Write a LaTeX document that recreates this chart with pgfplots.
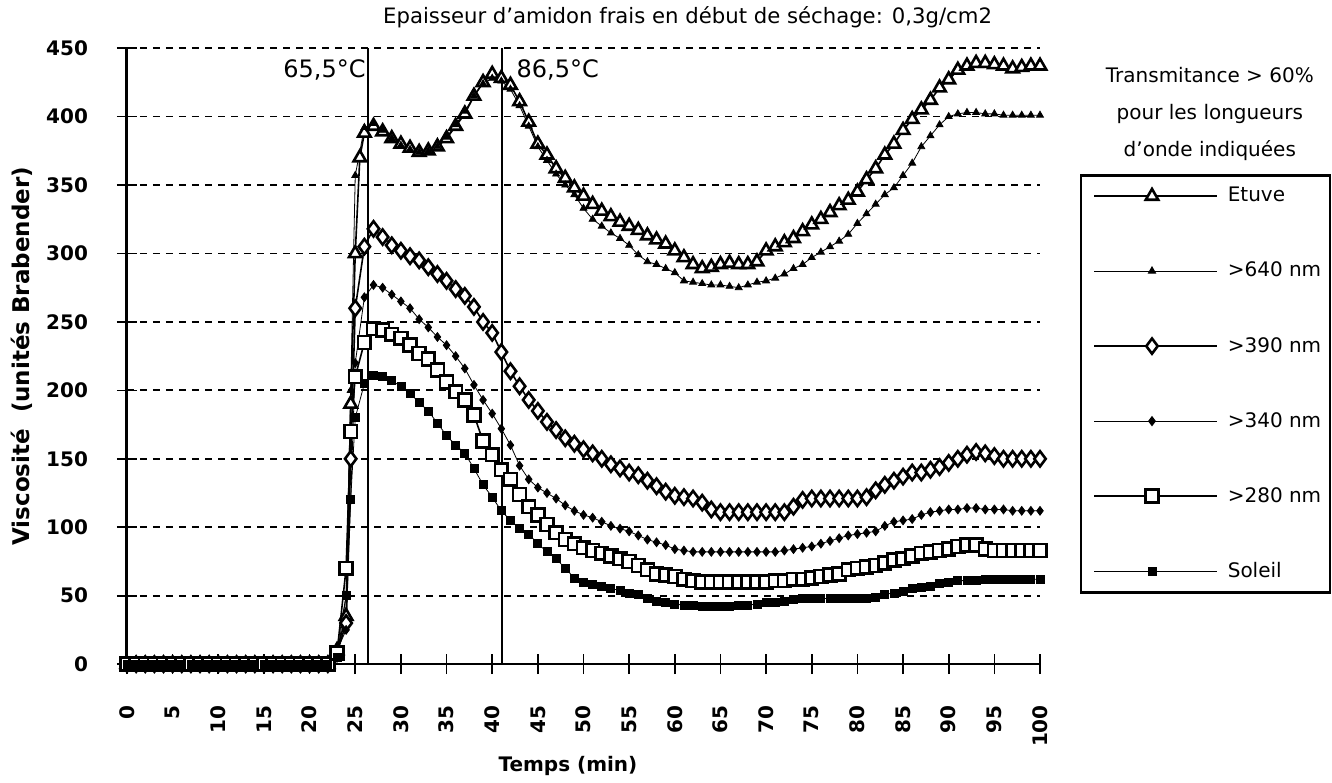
\documentclass[border=0pt]{standalone}
\usepackage{fontspec}
\setmainfont{DejaVu Sans}
\usepackage{pgfplots}
\pgfplotsset{compat=1.18}

\pgfplotsset{
  legline/.style={
    legend image code/.code={
      \path (-4pt,0pt) -- (57.5pt,0pt);
      \draw[line width=0.5pt, mark repeat=2, mark phase=2] plot coordinates {(0pt,0pt) (25pt,0pt) (53.5pt,0pt)};
    }
  }
}

\begin{document}
\begin{tikzpicture}
\begin{axis}[
  at={(0,0)}, anchor=south west,
  scale only axis, width=456.5pt, height=308pt,
  xmin=0, xmax=100, ymin=0, ymax=450,
  clip=false,
  axis x line=bottom, axis y line=left,
  x axis line style={-, line width=1pt},
  y axis line style={-, line width=1.5pt},
  xtick={0,5,...,100}, ytick={0,50,...,450},
  tick align=center, major tick length=10pt,
  tick style={line width=0.8pt, black},
  /pgf/number format/assume math mode=true,
  ticklabel style={font=\bfseries\fontsize{10}{12}\selectfont},
  xticklabel style={yshift=-12pt, rotate=90, anchor=east},
  yticklabel style={xshift=-11pt},
  ymajorgrids,
  grid style={line width=0.9pt, dash pattern=on 3.5pt off 3pt, black},
  xlabel={Temps (min)},
  xlabel style={font=\bfseries\fontsize{10}{12}\selectfont, at={(axis description cs:0.483,-0.165)}, anchor=center},
  ylabel={Viscosité~~(unités Brabender)},
  ylabel style={font=\bfseries\fontsize{11.5}{13}\selectfont, at={(axis description cs:-0.115,0.5)}, anchor=center, rotate=0},
  legend cell align=left,
  legend style={
    at={(axis description cs:1.04381,0.79545)}, anchor=north west,
    draw=black, line width=1.2pt,
    inner xsep=6pt, inner ysep=5pt,
    row sep=26.6pt, column sep=4pt,
    font=\fontsize{10}{12}\selectfont,
    nodes={inner sep=1pt}
  },
]

% heating markers
\addplot[forget plot, line width=0.8pt] coordinates {(26.4,0) (26.4,450)};
\addplot[forget plot, line width=0.8pt] coordinates {(41.1,0) (41.1,450)};

% Etuve
\addplot[legline, line width=0.8pt, mark=triangle*, mark size=3.6pt,
  mark options={solid, fill=white, line width=1.3pt}] coordinates {
(0,0)(1,0)(2,0)(3,0)(4,0)(5,0)(6,0)(7,0)(8,0)(9,0)(10,0)(11,0)(12,0)(13,0)(14,0)(15,0)(16,0)(17,0)(18,0)(19,0)(20,0)(21,0)(22,0)
(23,10)(24,35)(24.5,190)(25,300)(25.5,370)(26,388)(27,393)(28,389)(29,384)(30,380)(31,377)(32,374)(33,375)(34,378)(35,384)
(36,393)(37,402)(38,415)(39,425)(40,431)(41,428)(42,423)(43,411)(44,396)(45,380)(46,372)(47,362)(48,355)(49,348)(50,342)
(51,336)(52,331)(53,327)(54,323)(55,320)(56,317)(57,313)(58,310)(59,307)(60,302)(61,297)(62,292)(63,289)(64,290)(65,292)
(66,293)(67,292)(68,292)(69,294)(70,302)(71,305)(72,308)(73,311)(74,316)(75,321)(76,325)(77,330)(78,335)(79,339)(80,345)
(81,354)(82,362)(83,372)(84,380)(85,390)(86,398)(87,405)(88,412)(89,421)(90,427)(91,434)(92,437)(93,439)(94,439)(95,438)
(96,437)(97,435)(98,436)(99,437)(100,437)
};
\addlegendentry{\makebox[44pt][l]{Etuve}}

% > 640 nm
\addplot[legline, line width=0.4pt, mark=triangle*, mark size=2pt,
  mark options={solid, fill=black}] coordinates {
(0,0)(1,0)(2,0)(3,0)(4,0)(5,0)(6,0)(7,0)(8,0)(9,0)(10,0)(11,0)(12,0)(13,0)(14,0)(15,0)(16,0)(17,0)(18,0)(19,0)(20,0)(21,0)(22,0)
(23,12)(24,50)(24.5,200)(25,357)(26,392)(27,395)(28,390)(29,384)(30,379)(31,376)(32,374)(33,375)(34,378)(35,385)
(36,394)(37,404)(38,415)(39,424)(40,428)(41,426)(42,420)(43,408)(44,393)(45,378)(46,368)(47,358)(48,350)(49,343)(50,333)
(51,325)(52,320)(53,315)(54,311)(55,306)(56,299)(57,294)(58,292)(59,289)(60,286)(61,280)(62,279)(63,278)(64,277)(65,277)
(66,276)(67,275)(68,277)(69,279)(70,280)(71,282)(72,285)(73,289)(74,292)(75,297)(76,301)(77,305)(78,309)(79,314)(80,322)
(81,329)(82,336)(83,343)(84,348)(85,357)(86,366)(87,378)(88,386)(89,394)(90,400)(91,402)(92,403)(93,403)(94,402)(95,402)
(96,401)(97,401)(98,401)(99,401)(100,401)
};
\addlegendentry{\makebox[44pt][l]{>640 nm}}

% > 390 nm
\addplot[legline, line width=0.8pt, mark=diamond*, mark size=3.8pt,
  mark options={solid, fill=white, line width=1.3pt}] coordinates {
(0,0)(1,0)(2,0)(3,0)(4,0)(5,0)(6,0)(7,0)(8,0)(9,0)(10,0)(11,0)(12,0)(13,0)(14,0)(15,0)(16,0)(17,0)(18,0)(19,0)(20,0)(21,0)(22,0)
(23,8)(24,30)(24.5,150)(25,260)(26,305)(27,318)(28,312)(29,306)(30,302)(31,298)(32,295)(33,290)(34,285)(35,280)
(36,274)(37,269)(38,261)(39,250)(40,242)(41,228)(42,214)(43,203)(44,193)(45,185)(46,177)(47,171)(48,165)(49,161)(50,157)
(51,154)(52,150)(53,146)(54,143)(55,140)(56,138)(57,134)(58,130)(59,126)(60,123)(61,122)(62,121)(63,118)(64,113)(65,111)
(66,111)(67,111)(68,111)(69,111)(70,111)(71,111)(72,111)(73,115)(74,120)(75,121)(76,121)(77,121)(78,121)(79,121)(80,121)
(81,122)(82,127)(83,131)(84,134)(85,137)(86,140)(87,140)(88,142)(89,144)(90,147)(91,150)(92,153)(93,155)(94,154)(95,152)
(96,150)(97,150)(98,150)(99,150)(100,150)
};
\addlegendentry{\makebox[44pt][l]{>390 nm}}

% > 340 nm
\addplot[legline, line width=0.4pt, mark=diamond*, mark size=2.2pt,
  mark options={solid, fill=black}] coordinates {
(0,0)(1,0)(2,0)(3,0)(4,0)(5,0)(6,0)(7,0)(8,0)(9,0)(10,0)(11,0)(12,0)(13,0)(14,0)(15,0)(16,0)(17,0)(18,0)(19,0)(20,0)(21,0)(22,0)
(23,10)(24,25)(24.5,120)(25,220)(26,268)(27,277)(28,275)(29,270)(30,265)(31,260)(32,252)(33,246)(34,239)(35,233)
(36,225)(37,216)(38,204)(39,193)(40,183)(41,172)(42,160)(43,145)(44,135)(45,129)(46,125)(47,121)(48,116)(49,112)(50,109)
(51,107)(52,104)(53,101)(54,99)(55,97)(56,94)(57,91)(58,89)(59,87)(60,84)(61,83)(62,82)(63,82)(64,82)(65,82)
(66,82)(67,82)(68,82)(69,82)(70,82)(71,82)(72,83)(73,84)(74,85)(75,86)(76,88)(77,90)(78,92)(79,94)(80,95)
(81,96)(82,97)(83,101)(84,104)(85,105)(86,106)(87,109)(88,111)(89,112)(90,113)(91,113)(92,114)(93,114)(94,113)(95,113)
(96,113)(97,112)(98,112)(99,112)(100,112)
};
\addlegendentry{\makebox[44pt][l]{>340 nm}}

% > 280 nm
\addplot[legline, line width=0.8pt, mark=square*, mark size=3.2pt,
  mark options={solid, fill=white, line width=1.3pt}] coordinates {
(0,0)(1,0)(2,0)(3,0)(4,0)(5,0)(6,0)(7,0)(8,0)(9,0)(10,0)(11,0)(12,0)(13,0)(14,0)(15,0)(16,0)(17,0)(18,0)(19,0)(20,0)(21,0)(22,0)
(23,8)(24,70)(24.5,170)(25,210)(26,235)(27,245)(28,244)(29,241)(30,238)(31,233)(32,227)(33,223)(34,215)(35,206)
(36,199)(37,193)(38,182)(39,163)(40,153)(41,142)(42,135)(43,124)(44,115)(45,109)(46,102)(47,96)(48,91)(49,88)(50,85)
(51,83)(52,81)(53,79)(54,77)(55,75)(56,72)(57,69)(58,66)(59,65)(60,64)(61,62)(62,61)(63,60)(64,60)(65,60)
(66,60)(67,60)(68,60)(69,60)(70,60)(71,61)(72,61)(73,62)(74,62)(75,63)(76,64)(77,65)(78,66)(79,69)(80,70)
(81,71)(82,72)(83,74)(84,76)(85,77)(86,79)(87,81)(88,82)(89,83)(90,84)(91,86)(92,87)(93,87)(94,84)(95,83)
(96,83)(97,83)(98,83)(99,83)(100,83)
};
\addlegendentry{\makebox[44pt][l]{>280 nm}}

% Soleil
\addplot[legline, line width=0.4pt, mark=square*, mark size=2pt,
  mark options={solid, fill=black}] coordinates {
(0,0)(1,0)(2,0)(3,0)(4,0)(5,0)(6,0)(7,0)(8,0)(9,0)(10,0)(11,0)(12,0)(13,0)(14,0)(15,0)(16,0)(17,0)(18,0)(19,0)(20,0)(21,0)(22,0)
(23,5)(24,50)(24.5,120)(25,180)(26,205)(27,211)(28,210)(29,207)(30,203)(31,198)(32,191)(33,185)(34,176)(35,167)
(36,160)(37,154)(38,143)(39,131)(40,122)(41,112)(42,105)(43,99)(44,95)(45,88)(46,82)(47,77)(48,70)(49,63)(50,60)
(51,58)(52,57)(53,55)(54,54)(55,52)(56,51)(57,48)(58,46)(59,45)(60,44)(61,43)(62,43)(63,42)(64,42)(65,42)
(66,42)(67,43)(68,43)(69,44)(70,45)(71,45)(72,46)(73,47)(74,48)(75,48)(76,48)(77,48)(78,48)(79,48)(80,48)
(81,48)(82,49)(83,51)(84,52)(85,53)(86,55)(87,56)(88,57)(89,59)(90,60)(91,61)(92,61)(93,61)(94,62)(95,62)
(96,62)(97,62)(98,62)(99,62)(100,62)
};
\addlegendentry{\makebox[44pt][l]{Soleil}}

% annotations
\node[anchor=east, font=\fontsize{12}{14}\selectfont, inner sep=1pt] at (axis cs:26.4,434) {65,5°C};
\node[anchor=west, font=\fontsize{12}{14}\selectfont, inner sep=1pt, xshift=6pt] at (axis cs:41.1,434) {86,5°C};
\node[font=\fontsize{10.6}{12}\selectfont] at (axis description cs:0.614,1.05)
  {Epaisseur d'amidon frais en début de séchage: 0,3g/cm2};
\node[align=center, font=\fontsize{10}{18.5}\selectfont] at (axis description cs:1.186,0.893)
  {Transmitance > 60\%\\pour les longueurs\\d'onde indiquées};
\end{axis}
\path[use as bounding box] (-63.5pt,-58pt) rectangle (602.5pt,331pt);
\end{tikzpicture}
\end{document}
